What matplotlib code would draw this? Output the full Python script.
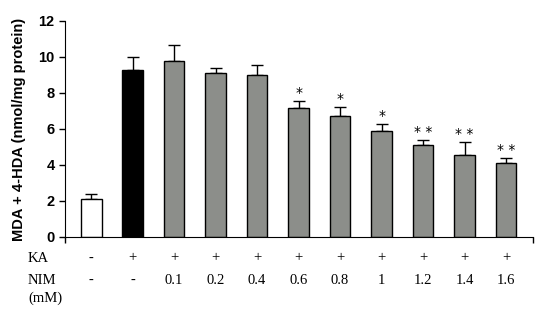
import matplotlib.pyplot as plt
import numpy as np

# bar heights and upper error
means = [2.1, 9.3, 9.8, 9.1, 9.0, 7.15, 6.7, 5.9, 5.1, 4.55, 4.1]
errors = [0.3, 0.7, 0.85, 0.3, 0.55, 0.4, 0.5, 0.4, 0.27, 0.75, 0.27]
colors = ['white', 'black'] + ['#8c8e8a'] * 9
stars = ['', '', '', '', '', '*', '*', '*', '* *', '* *', '* *']
ka_row = ['-', '+', '+', '+', '+', '+', '+', '+', '+', '+', '+']
nim_row = ['-', '-', '0.1', '0.2', '0.4', '0.6', '0.8', '1', '1.2', '1.4', '1.6']

x = np.arange(len(means))

fig = plt.figure(figsize=(5.42, 3.17), dpi=100)
ax = fig.add_axes([65 / 542, 80 / 317, 468 / 542, 216 / 317])

ax.bar(x, means, width=0.5, color=colors, edgecolor='black', linewidth=1, zorder=2)
ax.errorbar(x, means, yerr=[np.zeros(len(errors)), errors], fmt='none',
            ecolor='black', elinewidth=1, capsize=4, capthick=1, zorder=1)

for xi, m, e, s in zip(x, means, errors, stars):
    if s:
        ax.text(xi, m + e + 0.05, s, ha='center', va='bottom', fontsize=10,
                family='DejaVu Sans')

ax.set_xlim(-0.63, 10.65)
ax.set_ylim(0, 12)
ax.set_yticks(range(0, 13, 2))
ax.set_xticks([-0.63, 10.65])
ax.set_xticklabels([])
for lbl in ax.get_yticklabels():
    lbl.set_fontweight('bold')
    lbl.set_family('Liberation Sans')
    lbl.set_fontsize(10.5)
ax.tick_params(axis='both', direction='out', length=4, width=1)
ax.spines['top'].set_visible(False)
ax.spines['right'].set_visible(False)
ax.set_ylabel('MDA + 4-HDA (nmol/mg protein)', fontweight='bold',
              family='Liberation Sans', fontsize=10.5, labelpad=9)

# rows of conditions under the axis
row_font = dict(family='Liberation Serif', fontsize=10.5, va='center')
fig.text(28 / 542, 1 - 258 / 317, 'KA', ha='left', **row_font)
fig.text(28 / 542, 1 - 280 / 317, 'NIM', ha='left', **row_font)
fig.text(28 / 542, 1 - 298 / 317, '(mM)', ha='left', **row_font)
trans = ax.get_xaxis_transform()
for xi, k, n in zip(x, ka_row, nim_row):
    ax.text(xi, (258 - 237) / -216, k, transform=trans, ha='center', **row_font)
    ax.text(xi, (280 - 237) / -216, n, transform=trans, ha='center', **row_font)

fig.savefig('out.png', dpi=100)
